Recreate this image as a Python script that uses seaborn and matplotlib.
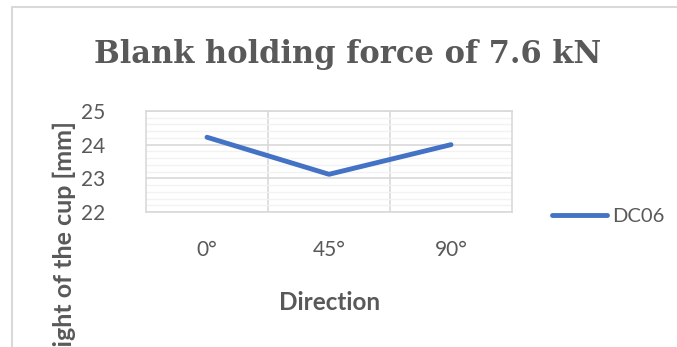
import numpy as np
import pandas as pd
import seaborn as sns
import matplotlib.pyplot as plt
from matplotlib.lines import Line2D
from matplotlib.ticker import MultipleLocator

# dados
direcoes = ["0°", "45°", "90°"]
altura_dc06 = [24.22, 23.12, 24.0]
serie = "DC06"

df = pd.DataFrame({"Direction": direcoes, "Altura": altura_dc06, "Material": serie})

sns.set_style("white")
plt.rcParams["font.family"] = ["Lato", "DejaVu Sans"]

cinza = "#595959"
azul = "#4472C4"

W, H = 677, 347
fig = plt.figure(figsize=(W / 100, H / 100), dpi=100)
ax = fig.add_axes([146 / W, 1 - 212 / H, (512 - 146) / W, (212 - 111) / H])

sns.lineplot(data=df, x="Direction", y="Altura", hue="Material", palette=[azul],
             linewidth=3.5, ax=ax, legend=False, solid_capstyle="round")

ax.set_xlim(-0.5, 2.5)
ax.set_ylim(22, 25)
ax.yaxis.set_major_locator(MultipleLocator(1))
ax.yaxis.set_minor_locator(MultipleLocator(0.2))
ax.set_xticks([0, 1, 2])
ax.set_xticklabels(direcoes)
ax.set_xticks([0.5, 1.5], minor=True)
ax.grid(True, which="major", axis="y", color="#D9D9D9", linewidth=1.2)
ax.grid(True, which="minor", axis="y", color="#F2F2F2", linewidth=1.0)
ax.grid(True, which="minor", axis="x", color="#D9D9D9", linewidth=1.2)
ax.set_axisbelow(True)
for s in ax.spines.values():
    s.set_color("#D9D9D9")
    s.set_linewidth(1.2)
ax.tick_params(axis="both", which="both", length=0, labelsize=15, labelcolor=cinza)
ax.tick_params(axis="x", pad=20)
ax.tick_params(axis="y", pad=29)
ax.set_xlabel("")
ax.set_ylabel("")

# título e rótulos
fig.text(348 / W, 1 - 55 / H, "Blank holding force of 7.6 kN", family="DejaVu Serif",
         fontweight="bold", fontsize=22, color=cinza, ha="center", va="center")
fig.text(330 / W, 1 - 302 / H, "Direction", fontweight="bold", fontsize=17.5,
         color=cinza, ha="center", va="center")
fig.text(64 / W, 1 - 121 / H, "Height of the cup [mm]", fontweight="bold", fontsize=18,
         color=cinza, ha="center", va="top", rotation=90)

# legenda
handle = Line2D([], [], color=azul, linewidth=3.5, solid_capstyle="round")
fig.legend([handle], [serie], loc="center left", bbox_to_anchor=(552 / W, 1 - 216 / H),
           frameon=False, fontsize=14.5, labelcolor=cinza, handlelength=2.75,
           handletextpad=0.25, borderaxespad=0, borderpad=0)

# borda do gráfico (cortada)
fig.add_artist(Line2D([12 / W, 12 / W], [1 - 7 / H, 0], color="#D9D9D9", linewidth=1.5))
fig.add_artist(Line2D([12 / W, 1], [1 - 7 / H, 1 - 7 / H], color="#D9D9D9", linewidth=1.5))

fig.savefig("out.png", dpi=100)
